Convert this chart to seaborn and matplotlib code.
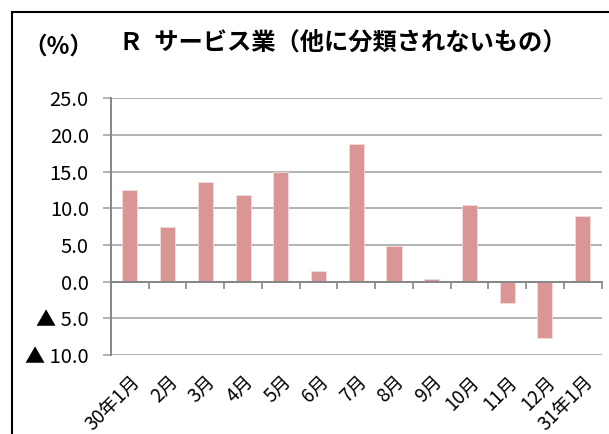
import matplotlib
matplotlib.use("Agg")
import matplotlib.pyplot as plt
import seaborn as sns
import pandas as pd
from matplotlib.patches import Rectangle

months = ["30年1月", "2月", "3月", "4月", "5月", "6月", "7月", "8月", "9月",
          "10月", "11月", "12月", "31年1月"]
values = [12.5, 7.5, 13.6, 11.8, 15.0, 1.4, 18.8, 4.8, 0.3, 10.5, -2.9, -7.7, 9.0]
yticks = [25.0, 20.0, 15.0, 10.0, 5.0, 0.0, -5.0, -10.0]
ytick_labels = ["25.0", "20.0", "15.0", "10.0", "5.0", "0.0", "▲ 5.0", "▲ 10.0"]
title = "Ｒ  サービス業（他に分類されないもの）"
unit = "（%）"

sns.set_theme(style="white")
plt.rcParams['font.family'] = ['Noto Sans CJK JP', 'DejaVu Sans']
plt.rcParams['text.color'] = 'black'
plt.rcParams['xtick.labelcolor'] = 'black'
plt.rcParams['ytick.labelcolor'] = 'black'

df = pd.DataFrame({"month": months, "value": values})

fig = plt.figure(figsize=(6.09, 4.34), dpi=100)
ax = fig.add_axes([111/609, 1-355/434, (601.5-111)/609, (355-98.3)/434])

sns.barplot(data=df, x="month", y="value", color="#D99694", saturation=1,
            width=0.4, ax=ax, edgecolor="#F2DCDB", linewidth=0.6)

ax.set_xlim(-0.5, len(months) - 0.5)
ax.set_ylim(-10, 25)
ax.set_yticks(yticks)
ax.set_yticklabels(ytick_labels, fontsize=14.5)
ax.yaxis.grid(True, color="#A6A6A6", linewidth=1.2)
ax.set_axisbelow(True)
ax.tick_params(axis="y", length=6, width=1.2, color="#A6A6A6", pad=10, labelcolor="black", left=True)

for s in ["top", "right"]:
    ax.spines[s].set_visible(False)
ax.spines["left"].set_color("#868686")
ax.spines["left"].set_linewidth(1.4)
ax.spines["bottom"].set_position(("data", 0))
ax.spines["bottom"].set_color("#868686")
ax.spines["bottom"].set_linewidth(1.4)
ax.set_xticks([i - 0.5 for i in range(len(months) + 1)])
ax.set_xticklabels([])
ax.tick_params(axis="x", bottom=True, length=5, width=1.2, color="#868686", direction="out")
ax.set_xlabel("")
ax.set_ylabel("")

sec = ax.secondary_xaxis(0.0)
sec.set_xticks(range(len(months)))
sec.set_xticklabels(months, rotation=45, ha="right", rotation_mode="anchor", fontsize=13.5,
                    color="black")
sec.tick_params(axis="x", length=0, pad=12)
sec.spines["bottom"].set_visible(False)

fig.text(343/609, 1-44/434, title, ha="center", va="center", fontsize=17.5, fontweight="bold")
fig.text(58/609, 1-47/434, unit, ha="center", va="center", fontsize=17, fontweight="bold")

fig.patches.append(Rectangle((12/609, -0.5), 2.0, 1.5 - 12/434, transform=fig.transFigure,
                             fill=False, edgecolor="black", linewidth=1.5, figure=fig))

fig.savefig("out.png", dpi=100)
